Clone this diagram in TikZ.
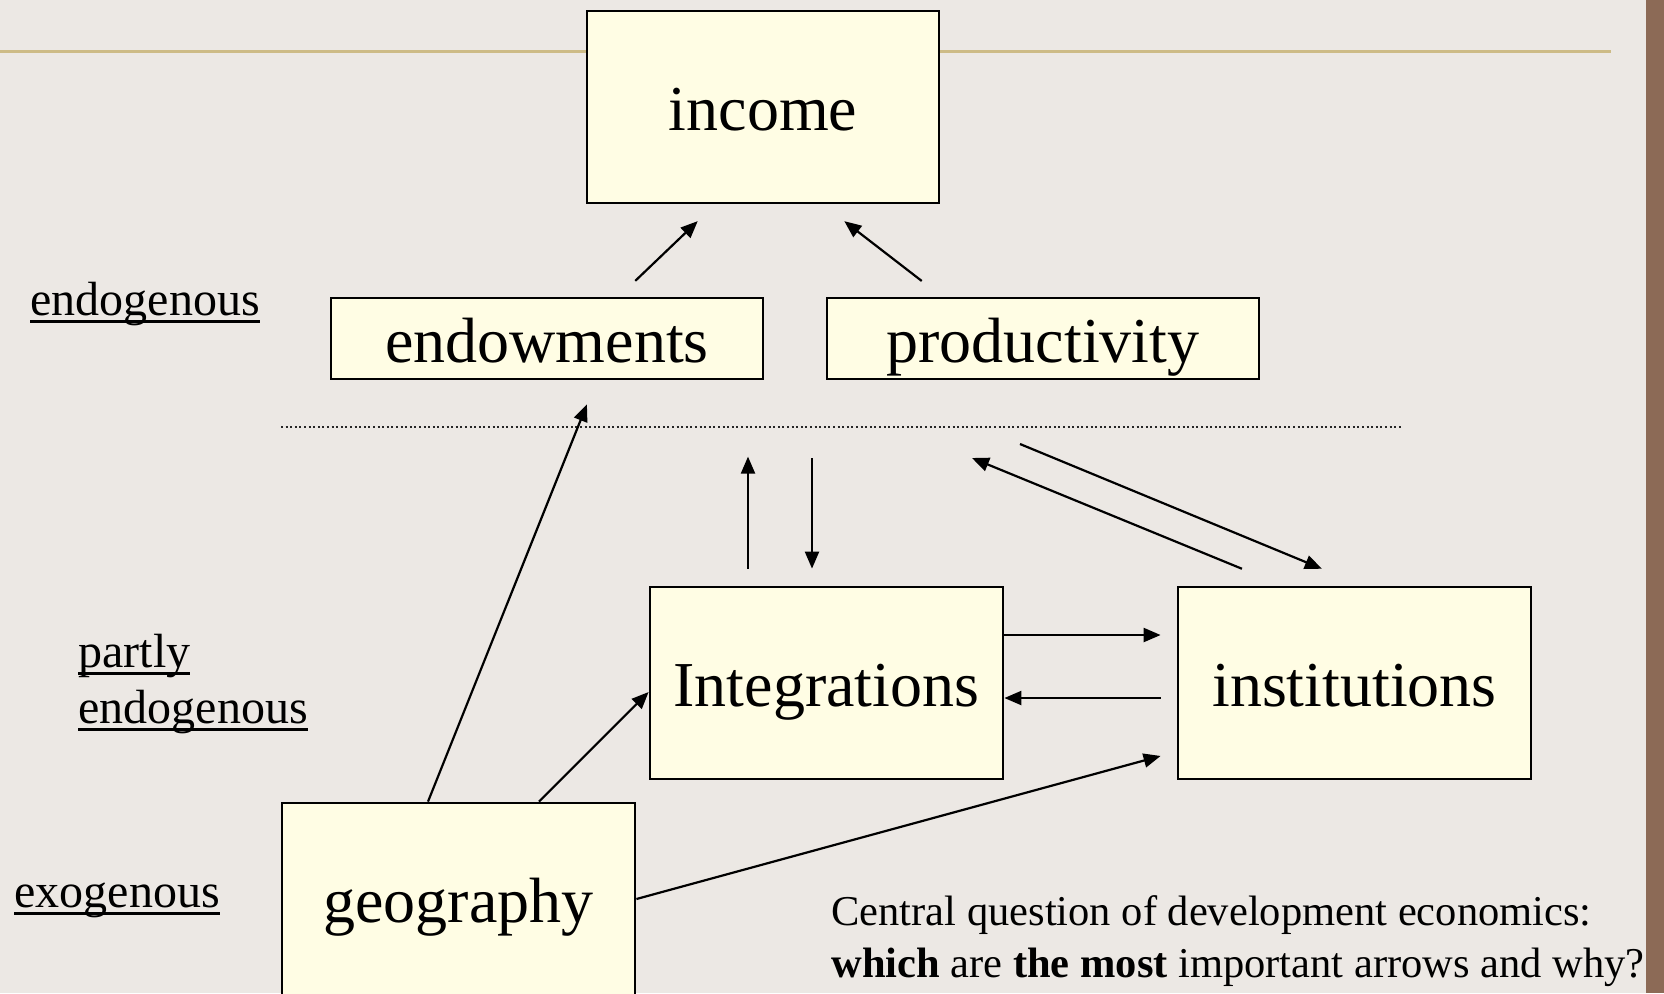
\documentclass[tikz,border=0pt]{standalone}
\usepackage{fontspec}
\setmainfont{Liberation Serif}
\usetikzlibrary{arrows.meta,calc}

\definecolor{bg}{RGB}{236,232,228}
\definecolor{boxfill}{RGB}{255,253,228}
\definecolor{rulegold}{RGB}{205,187,134}
\definecolor{sidebar}{RGB}{140,106,86}

% underlined level label: rule sits just under the baseline
\newcommand\ulword[1]{\setbox0\hbox{#1}\rlap{\rule[-3.9pt]{\wd0}{1.4pt}}\box0}

\tikzset{
  box/.style={draw=black, line width=1.4pt, fill=boxfill, inner sep=0pt,
    text height=23.5pt, text depth=0pt, font=\fontsize{32}{36}\selectfont},
  arr/.style={line width=1.1pt, -{Triangle[length=8.5pt,width=7pt]}},
  lvl/.style={anchor=base west, inner sep=0pt, font=\fontsize{24}{28}\selectfont},
  note/.style={anchor=base west, inner sep=0pt, font=\fontsize{21.25}{26}\selectfont},
}

\begin{document}
\begin{tikzpicture}[x=0.5pt, y=-0.5pt]
  % page
  \fill[bg] (0,0) rectangle (1664,993);
  \useasboundingbox (0,0) rectangle (1664,993);
  \draw[rulegold, line width=1.5pt] (0,51) -- (1611,51);
  \fill[sidebar] (1646,0) rectangle (1664,993);

  % boundary between endogenous and partly endogenous
  \draw[black!85, line width=1pt, dash pattern=on 1pt off 1.3pt] (281,427) -- (1401,427);

  % boxes
  \node[box, minimum width=176pt, minimum height=96pt]   (income) at (763,107)    {income};
  \node[box, minimum width=216pt, minimum height=40.5pt] (endow)  at (547,338.5)  {endowments};
  \node[box, minimum width=216pt, minimum height=40.5pt] (prod)   at (1043,338.5) {productivity};
  \node[box, minimum width=176.5pt, minimum height=96pt] (integ)  at (826.5,683)  {Integrations};
  \node[box, minimum width=176.5pt, minimum height=96pt] (inst)   at (1354.5,683) {institutions};
  \node[box, minimum width=176.5pt, minimum height=96pt] (geo)    at (458.5,899)  {geography};

  % free ends of the arrows crossing the dotted boundary
  \coordinate (dnA)   at (812,458);
  \coordinate (diagA) at (972,458);
  \coordinate (diagB) at (1020,444);

  % arrows
  \draw[arr, shorten <=11.4pt, shorten >=12.1pt] ([xshift=35.9pt]endow.north) -- ([xshift=-23.9pt]income.south);
  \draw[arr, shorten <=12.8pt, shorten >=13.7pt] ([xshift=-50.5pt]prod.north) -- ([xshift=29.8pt]income.south);
  \draw[arr, shorten >=12.9pt] ([xshift=-15.25pt]geo.north) -- ([xshift=24.75pt]endow.south);
  \draw[arr] ([xshift=40.25pt]geo.north) -- ([yshift=-4.5pt]integ.west);
  \draw[arr, shorten >=8.3pt] (geo.east) -- ([yshift=-34.3pt]inst.west);
  \draw[arr, shorten >=8pt] ([yshift=24pt]integ.east) -- ([yshift=24pt]inst.west);
  \draw[arr, shorten <=8pt] ([yshift=-7.5pt]inst.west) -- ([yshift=-7.5pt]integ.east);
  \draw[arr, shorten <=8.5pt] ([xshift=-39.25pt]integ.north) -- ++(0,-129);
  \draw[arr, shorten >=8.5pt] (dnA) -- ([xshift=-7.25pt]integ.north);
  \draw[arr, shorten <=22.2pt] ([xshift=-35.75pt]inst.north) -- (diagA);
  \draw[arr, shorten >=22.1pt] (diagB) -- ([xshift=4.1pt]inst.north);

  % level labels
  \node[lvl] (lvEndo)   at (30,315)  {\ulword{endogenous}};
  \node[lvl] (lvPartA)  at (78,667)  {\ulword{partly}};
  \node[lvl] (lvPartB)  at (78,723)  {\ulword{endogenous}};
  \node[lvl] (lvExo)    at (14,907)  {\ulword{exogenous}};

  % question
  \node[note] (qA) at (831,925) {Central question of development economics:};
  \node[note] (qB) at (831,977) {\textbf{which} are \textbf{the most} important arrows and why?};
\end{tikzpicture}
\end{document}
